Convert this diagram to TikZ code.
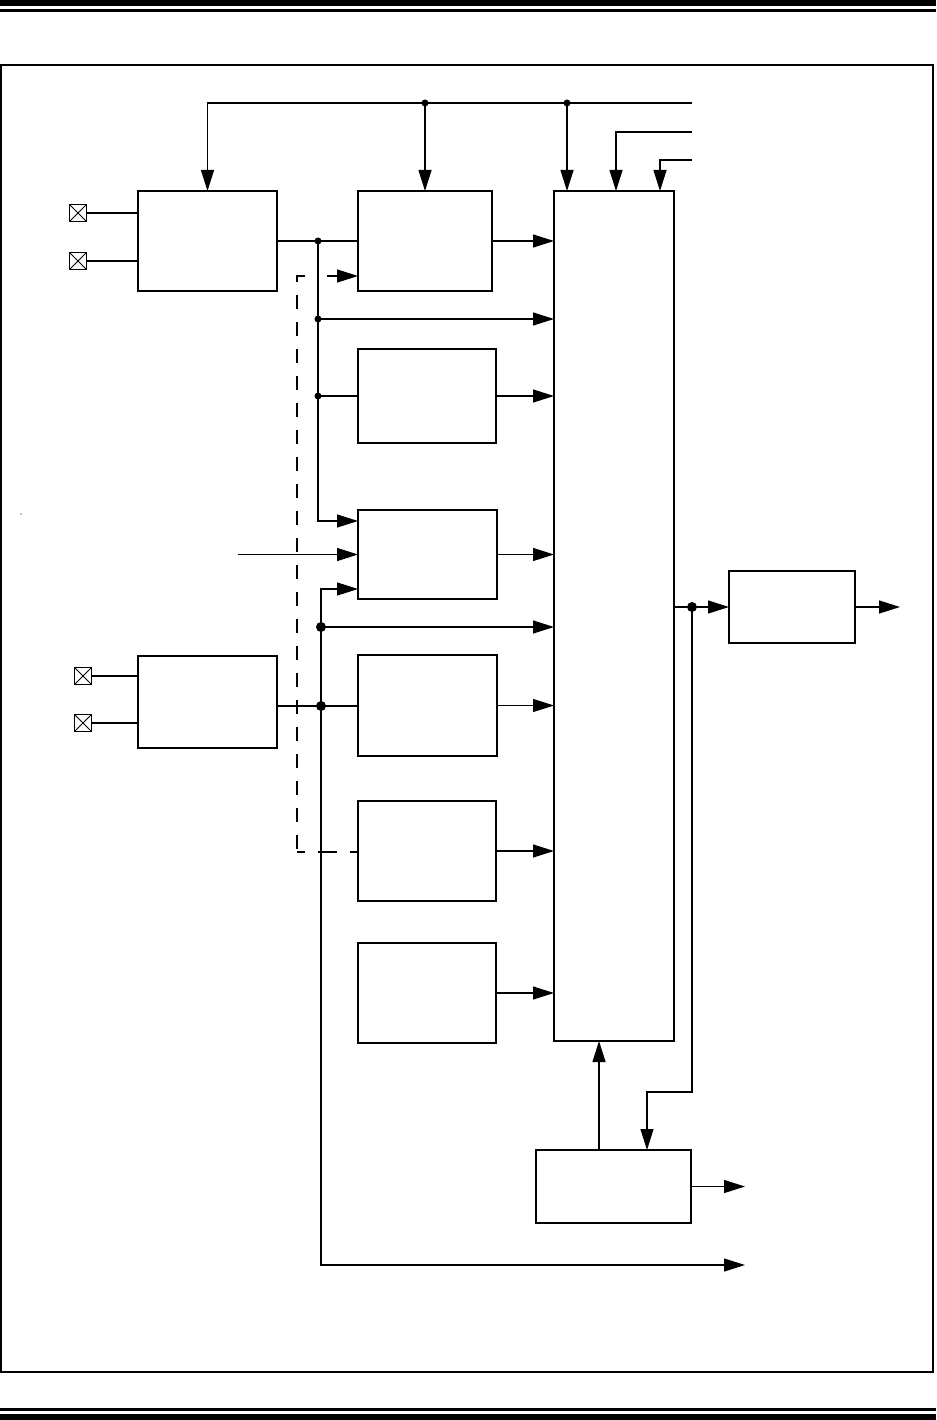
\documentclass[tikz,border=0pt]{standalone}
\usepackage{tikz}
\usetikzlibrary{arrows.meta,calc}
\tikzset{
  box/.style={draw, line width=1.2pt, inner sep=0pt, outer sep=0pt},
  pin/.style={draw, line width=1pt, minimum size=17pt, inner sep=0pt,
              path picture={\draw (path picture bounding box.north west) -- (path picture bounding box.south east)
                                  (path picture bounding box.south west) -- (path picture bounding box.north east);}},
  wire/.style={line width=1.2pt},
  arrow/.style={wire, -{Triangle[length=21pt,width=13pt]}},
  dashwire/.style={wire, dash pattern=on 14pt off 13pt},
  dot/.style={circle, fill, inner sep=0pt, minimum size=7pt},
  bigdot/.style={circle, fill, inner sep=0pt, minimum size=10pt},
}
\begin{document}
\begin{tikzpicture}[x=1pt, y=-1pt]
  \useasboundingbox (0,0) rectangle (936,1420);
  % page rules and frame
  \fill (0,0) rectangle (936,6);
  \fill (0,9.5) rectangle (936,12);
  \fill (0,1408) rectangle (936,1410.5);
  \fill (0,1414) rectangle (936,1420);
  \draw[line width=1.6pt] (1,65) rectangle (933,1372);
  \fill (21,514) circle (0.6pt);

  % blocks
  \node[box, minimum width=139pt, minimum height=100pt] (oscA) at (207.5,241) {};
  \node[box, minimum width=134pt, minimum height=100pt] (blkB) at (425,241) {};
  \node[box, minimum width=138pt, minimum height=94pt]  (blkC) at (427,396) {};
  \node[box, minimum width=139pt, minimum height=89pt]  (blkD) at (427.5,554.5) {};
  \node[box, minimum width=139pt, minimum height=92pt]  (oscF) at (207.5,702) {};
  \node[box, minimum width=139pt, minimum height=101pt] (blkE) at (427.5,705.5) {};
  \node[box, minimum width=138pt, minimum height=100pt] (blkG) at (427,851) {};
  \node[box, minimum width=138pt, minimum height=100pt] (blkH) at (427,993) {};
  \node[box, minimum width=120pt, minimum height=850pt] (mux) at (614,616) {};
  \node[box, minimum width=126pt, minimum height=72pt]  (blkR) at (792,607) {};
  \node[box, minimum width=155pt, minimum height=73pt]  (blkS) at (613.5,1186.5) {};

  % pins
  \node[pin] (pA1) at (78,213) {};
  \node[pin] (pA2) at (78,261) {};
  \node[pin] (pF1) at (83,676) {};
  \node[pin] (pF2) at (83,723) {};
  \draw[wire] (pA1.east) -- (oscA.west |- pA1.east);
  \draw[wire] (pA2.east) -- (oscA.west |- pA2.east);
  \draw[wire] (pF1.east) -- (oscF.west |- pF1.east);
  \draw[wire] (pF2.east) -- (oscF.west |- pF2.east);

  % control lines on top
  \coordinate (busR) at (692,103);
  \coordinate (bus2) at (692,132);
  \coordinate (bus3) at (692,160);
  \coordinate (muxT1) at (567,191);
  \coordinate (muxT2) at (616,191);
  \coordinate (muxT3) at (660,191);
  \draw[arrow] (busR) -| (oscA.north);
  \draw[arrow] (blkB.north |- busR) -- (blkB.north);
  \draw[arrow] (muxT1 |- busR) -- (muxT1);
  \draw[arrow] (bus2) -| (muxT2);
  \draw[arrow] (bus3) -| (muxT3);
  \node[dot] at (blkB.north |- busR) {};
  \node[dot] at (muxT1 |- busR) {};

  % first oscillator fan-out
  \coordinate (jA) at (318,241);
  \coordinate (jA2) at (318,319);
  \coordinate (jA3) at (318,396);
  \coordinate (dIn1) at ($(blkD.north west)+(0,11)$);
  \draw[wire] (oscA.east) -- (blkB.west);
  \draw[arrow] (jA) |- (dIn1);
  \draw[arrow] (jA2) -- (mux.west |- jA2);
  \draw[wire] (jA3) -- (blkC.west |- jA3);
  \node[dot] at (jA) {};
  \node[dot] at (jA2) {};
  \node[dot] at (jA3) {};

  % dashed path
  \coordinate (dashT) at (297,276);
  \coordinate (dashB) at (297,852);
  \draw[dashwire] (305,276) -- (dashT) -- (dashB);
  \draw[wire, dash pattern=on 8pt off 13pt on 19pt off 13pt on 12pt] (dashB) -- (blkG.west |- dashB);
  \draw[arrow] (327,276) -- (blkB.west |- dashT);

  % second oscillator fan-out
  \coordinate (inD) at (238,554.5);
  \coordinate (dIn3) at ($(blkD.south west)+(0,-10)$);
  \coordinate (jF1) at (321,706);
  \coordinate (jF2) at (321,627);
  \coordinate (outB) at (745,1265);
  \draw[arrow] (inD) -- (blkD.west);
  \draw[arrow] (jF2) |- (dIn3);
  \draw[arrow] (jF2) |- (outB);
  \draw[arrow] (jF2) -- (mux.west |- jF2);
  \draw[wire] (oscF.east |- jF1) -- (blkE.west |- jF1);
  \node[bigdot] at (jF1) {};
  \node[bigdot] at (jF2) {};

  % block outputs into selector
  \draw[arrow] (blkB.east) -- (mux.west |- blkB.east);
  \draw[arrow] (blkC.east) -- (mux.west |- blkC.east);
  \draw[arrow] (blkD.east) -- (mux.west |- blkD.east);
  \draw[arrow] (blkE.east) -- (mux.west |- blkE.east);
  \draw[arrow] (blkG.east) -- (mux.west |- blkG.east);
  \draw[arrow] (blkH.east) -- (mux.west |- blkH.east);

  % selector output
  \coordinate (jR) at (692,607);
  \coordinate (outR) at (900,607);
  \coordinate (sIn) at (647,1150);
  \coordinate (sUp) at (599,1150);
  \coordinate (outS) at (745,1186.5);
  \draw[arrow] (mux.east |- blkR.west) -- (blkR.west);
  \draw[arrow] (blkR.east) -- (outR);
  \draw[arrow] (jR) -- (jR |- 0,1092) -| (sIn);
  \draw[arrow] (sUp) -- (sUp |- mux.south);
  \draw[arrow] (blkS.east) -- (outS);
  \node[bigdot] at (jR) {};
\end{tikzpicture}
\end{document}
